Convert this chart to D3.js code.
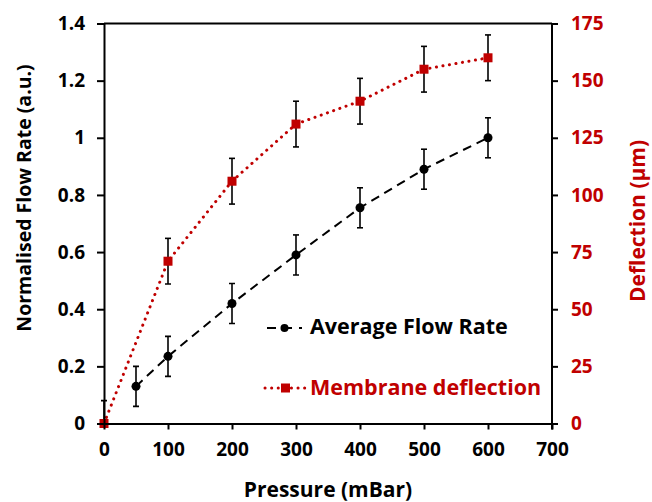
<!DOCTYPE html>
<html>
<head>
<meta charset="utf-8">
<script src="https://cdnjs.cloudflare.com/ajax/libs/d3/7.8.5/d3.min.js"></script>
<style>
  body { margin: 0; background: #fff; }
  text { font-family: "Open Sans", sans-serif; font-weight: bold; }
</style>
</head>
<body>
<div id="chart"></div>
<script>
let width = 652, height = 502;

// data
const pressure = [0, 50, 100, 200, 300, 400, 500, 600];
const flowRate = [0, 0.13, 0.235, 0.42, 0.59, 0.755, 0.89, 1.0];
const flowErr = [0.08, 0.07, 0.07, 0.07, 0.07, 0.07, 0.07, 0.07];
const deflPressure = [0, 100, 200, 300, 400, 500, 600];
const deflection = [0, 71, 106, 131, 141, 155, 160];
const deflErr = [0, 10, 10, 10, 10, 10, 10];
const xTicks = [0, 100, 200, 300, 400, 500, 600, 700];
const yLeftTicks = [0, 0.2, 0.4, 0.6, 0.8, 1, 1.2, 1.4];
const yRightTicks = [0, 25, 50, 75, 100, 125, 150, 175];

const red = '#c00000';
const margin = {top: 23.5, right: 100, bottom: 78.5, left: 104};

const x = d3.scaleLinear().domain([0, 700]).range([margin.left, width - margin.right]);
const yL = d3.scaleLinear().domain([0, 1.4]).range([height - margin.bottom, margin.top]);
const yR = d3.scaleLinear().domain([0, 175]).range([height - margin.bottom, margin.top]);

const svg = d3.select('#chart').append('svg')
  .attr('width', width)
  .attr('height', height);

const flow = pressure.map((p, i) => ({p: p, v: flowRate[i], e: flowErr[i]}));
const defl = deflPressure.map((p, i) => ({p: p, v: deflection[i], e: deflErr[i]}));

// clip so the error bar at 0 stays above the axis
svg.append('clipPath').attr('id', 'plot')
  .append('rect')
  .attr('x', margin.left - 10).attr('y', 0)
  .attr('width', width).attr('height', yL(0));

const plot = svg.append('g').attr('clip-path', 'url(#plot)');

// lines
plot.append('path')
  .datum(flow.filter(d => d.p > 0))
  .attr('fill', 'none')
  .attr('stroke', '#000')
  .attr('stroke-width', 2)
  .attr('stroke-dasharray', '9,6')
  .attr('d', d3.line().x(d => x(d.p)).y(d => yL(d.v)));

plot.append('path')
  .datum(defl)
  .attr('fill', 'none')
  .attr('stroke', red)
  .attr('stroke-width', 3)
  .attr('stroke-linecap', 'round')
  .attr('stroke-dasharray', '0.1,6.5')
  .attr('d', d3.line().x(d => x(d.p)).y(d => yR(d.v)));

// error bars
const drawErr = (data, y) => {
  const g = plot.append('g').attr('stroke', '#000').attr('stroke-width', 1.6);
  data.filter(d => d.e > 0).forEach(d => {
    const cx = x(d.p), y1 = y(d.v + d.e), y2 = y(d.v - d.e);
    g.append('line').attr('x1', cx).attr('x2', cx).attr('y1', y1).attr('y2', y2);
    g.append('line').attr('x1', cx - 3).attr('x2', cx + 3).attr('y1', y1).attr('y2', y1);
    g.append('line').attr('x1', cx - 3).attr('x2', cx + 3).attr('y1', y2).attr('y2', y2);
  });
};
drawErr(defl, yR);
drawErr(flow, yL);

// markers
svg.append('g').selectAll('circle')
  .data(flow.filter(d => d.p > 0))
  .join('circle')
    .attr('cx', d => x(d.p))
    .attr('cy', d => yL(d.v))
    .attr('r', 4.5)
    .attr('fill', '#000');

svg.append('g').selectAll('rect')
  .data(defl)
  .join('rect')
    .attr('x', d => x(d.p) - 4.5)
    .attr('y', d => yR(d.v) - 4.5)
    .attr('width', 9)
    .attr('height', 9)
    .attr('fill', red);

// axes
const xAxis = svg.append('g')
  .attr('transform', `translate(0,${yL(0)})`)
  .call(d3.axisBottom(x).tickValues(xTicks).tickSize(6).tickPadding(13).tickSizeOuter(0));
const yAxisL = svg.append('g')
  .attr('transform', `translate(${margin.left},0)`)
  .call(d3.axisLeft(yL).tickValues(yLeftTicks).tickFormat(d3.format('')).tickSize(7).tickPadding(12).tickSizeOuter(0));
const yAxisR = svg.append('g')
  .attr('transform', `translate(${width - margin.right},0)`)
  .call(d3.axisRight(yR).tickValues(yRightTicks).tickSize(6).tickPadding(13).tickSizeOuter(0));

[xAxis, yAxisL, yAxisR].forEach(a => {
  a.select('.domain').attr('stroke-width', 2);
  a.selectAll('.tick line').attr('stroke-width', 2);
  a.selectAll('text').attr('font-size', 19).attr('fill', '#000');
});
yAxisR.selectAll('text').attr('fill', red);
yAxisR.select('.domain').attr('d', `M0,${yR(0) + 6}V${yR(175)}`);

// top border
svg.append('line')
  .attr('x1', margin.left).attr('x2', width - margin.right)
  .attr('y1', margin.top).attr('y2', margin.top)
  .attr('stroke', '#000').attr('stroke-width', 2);

// axis titles
svg.append('text')
  .attr('x', 328)
  .attr('y', 497)
  .attr('text-anchor', 'middle')
  .attr('font-size', 21)
  .text('Pressure (mBar)');

svg.append('text')
  .attr('transform', `translate(31,198) rotate(-90)`)
  .attr('text-anchor', 'middle')
  .attr('font-size', 19.5)
  .text('Normalised Flow Rate (a.u.)');

svg.append('text')
  .attr('transform', `translate(645,221) rotate(-90)`)
  .attr('text-anchor', 'middle')
  .attr('font-size', 21)
  .attr('fill', red)
  .text('Deflection (µm)');

// legend
const legend = svg.append('g');
legend.append('line')
  .attr('x1', 267).attr('x2', 302).attr('y1', 328).attr('y2', 328)
  .attr('stroke', '#000').attr('stroke-width', 2).attr('stroke-dasharray', '9,7');
legend.append('circle').attr('cx', 284.5).attr('cy', 328).attr('r', 4).attr('fill', '#000');
legend.append('text')
  .attr('x', 310).attr('y', 334)
  .attr('font-size', 21.5)
  .text('Average Flow Rate');

legend.append('line')
  .attr('x1', 265).attr('x2', 305).attr('y1', 388).attr('y2', 388)
  .attr('stroke', red).attr('stroke-width', 3).attr('stroke-linecap', 'round').attr('stroke-dasharray', '0.1,6.5');
legend.append('rect').attr('x', 281).attr('y', 383.5).attr('width', 9).attr('height', 9).attr('fill', red);
legend.append('text')
  .attr('x', 310).attr('y', 395)
  .attr('font-size', 21.5)
  .attr('fill', red)
  .text('Membrane deflection');
</script>
</body>
</html>
